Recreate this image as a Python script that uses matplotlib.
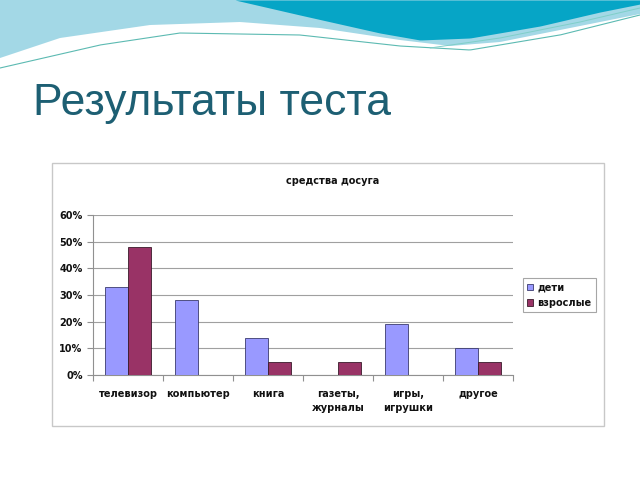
import numpy as np
import matplotlib
matplotlib.use("Agg")
import matplotlib.pyplot as plt
from matplotlib.patches import Rectangle
from matplotlib.ticker import FuncFormatter, MultipleLocator

categories = ["телевизор", "компьютер", "книга", "газеты,\nжурналы", "игры,\nигрушки", "другое"]
children = [33, 28, 14, 0, 19, 10]
adults = [48, 0, 5, 5, 0, 5]
series_names = ["дети", "взрослые"]

plt.rcParams['font.family'] = ['Liberation Sans', 'DejaVu Sans']
CF = dict(family='DejaVu Sans', weight='bold', size=7)

W, H = 640, 480
fig = plt.figure(figsize=(6.4, 4.8), dpi=100)

# background decoration (slide waves)
bg = fig.add_axes([0, 0, 1, 1], zorder=-10)
bg.set_xlim(0, W); bg.set_ylim(H, 0); bg.axis('off')
xs = np.linspace(0, W, 300)
lb_bottom = np.interp(xs, [0, 60, 150, 240, 320, 400, 450, 500, 600, 640],
                      [58, 38, 25, 22, 28, 40, 46, 42, 22, 14])
bg.fill_between(xs, 0, lb_bottom, color='#a3d8e6', lw=0)
dt_bottom = np.interp(xs, [235, 300, 380, 420, 470, 540, 600, 640], [0, 15, 33, 40, 38, 26, 12, 4])
m2 = xs >= 235
bg.fill_between(xs[m2], 0, dt_bottom[m2], color='#06a5c6', lw=0)
line1 = np.interp(xs, [0, 100, 180, 300, 400, 470, 560, 640], [68, 45, 33, 35, 46, 50, 35, 15])
bg.plot(xs, line1, color='#5cbab2', lw=0.8)
line2 = np.interp(xs, [430, 500, 580, 640], [48, 38, 22, 8])
m3 = xs >= 430
bg.plot(xs[m3], line2[m3], color='#7fcfc8', lw=0.7)

fig.text(33 / W, 1 - 103 / H, "Результаты теста", fontsize=32, color='#1d5f73',
         va='center', ha='left')

# chart frame
bg.add_patch(Rectangle((52, 163), 552, 263, fill=False, ec='#c8c8c8', lw=1.0))
fig.text(333 / W, 1 - 181 / H, "средства досуга", ha='center', va='center',
         color='#111111', **CF)

ax = fig.add_axes([93 / W, 1 - 375 / H, 420 / W, 160 / H])
x = np.arange(len(categories))
bw = 0.33
ax.bar(x - bw / 2, children, bw, color='#9999ff', edgecolor='#3b3b6e', lw=0.6,
       label=series_names[0], zorder=3)
ax.bar(x + bw / 2, adults, bw, color='#993366', edgecolor='#3a1a2a', lw=0.6,
       label=series_names[1], zorder=3)
ax.set_xlim(-0.5, len(categories) - 0.5)
ax.set_ylim(0, 60)
ax.yaxis.set_major_locator(MultipleLocator(10))
ax.yaxis.set_major_formatter(FuncFormatter(lambda v, p: f"{int(v)}%"))
ax.grid(axis='y', color='#a0a0a0', lw=0.8, zorder=0)
for s in ['top', 'right']:
    ax.spines[s].set_visible(False)
for s in ['left', 'bottom']:
    ax.spines[s].set_color('#909090')
ax.set_xticks(np.arange(len(categories) + 1) - 0.5)
ax.set_xticklabels([])
ax.set_xticks(x, minor=True)
ax.set_xticklabels(categories, minor=True, color='#111111', linespacing=1.5, **CF)
ax.tick_params(axis='x', which='major', length=4, color='#909090')
ax.tick_params(axis='x', which='minor', length=0, pad=10)
ax.tick_params(axis='y', length=4, color='#909090')
for t in ax.get_yticklabels():
    t.set_fontproperties(matplotlib.font_manager.FontProperties(**CF))
    t.set_color('#111111')

leg = ax.legend(loc='center left', bbox_to_anchor=(523 / W, 1 - 295 / H),
                bbox_transform=fig.transFigure, prop=matplotlib.font_manager.FontProperties(**CF),
                frameon=True, fancybox=False, edgecolor='#909090', handlelength=0.6,
                handleheight=0.6, handletextpad=0.4, borderpad=0.45, labelspacing=0.6,
                borderaxespad=0)
leg.get_frame().set_linewidth(0.8)
for t in leg.get_texts():
    t.set_color('#111111')

fig.savefig("out.png", dpi=100)
